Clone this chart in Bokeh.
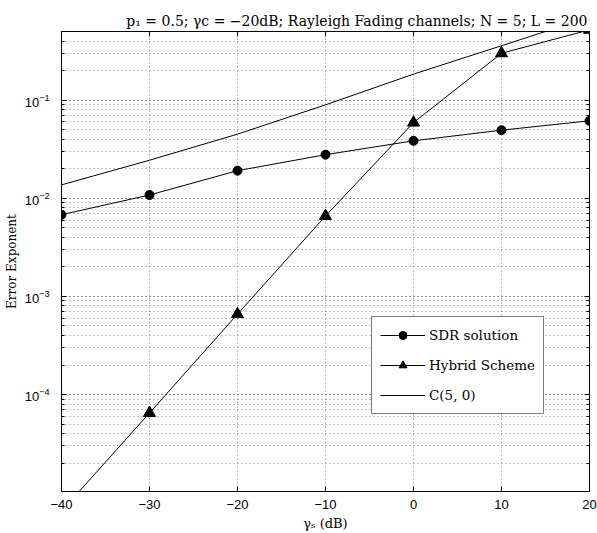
from bokeh.plotting import figure
from bokeh.models import LogAxis, LinearAxis, LogTicker, FixedTicker, CustomJSTickFormatter
from bokeh.embed import file_html
from bokeh.resources import INLINE

# ---- data ----
gamma_s = [-40, -30, -20, -10, 0, 10, 20]
sdr_solution = [6.8e-3, 1.08e-2, 1.91e-2, 2.78e-2, 3.85e-2, 4.94e-2, 6.15e-2]
hybrid_scheme = [6.5e-6, 6.5e-5, 6.6e-4, 6.6e-3, 5.9e-2, 0.30, 0.52]
c_5_0 = [1.37e-2, 2.44e-2, 4.5e-2, 8.95e-2, 0.184, 0.358, 0.70]
x_ticks = [-40, -30, -20, -10, 0, 10, 20]
x_limits = (-40, 20)
y_limits = (1.03e-5, 0.5)

title_text = "p\u2081 = 0.5; \u03b3c = \u221220dB; Rayleigh Fading channels; N = 5; L = 200"
serif = "DejaVu Serif"
sans = "Liberation Sans"
grid_col = "#808080"

p = figure(width=597, height=533, output_backend="svg", toolbar_location=None,
           x_range=x_limits, y_range=y_limits, y_axis_type="log",
           min_border_left=61, min_border_right=8, min_border_top=31, min_border_bottom=41)

p.title.text = title_text
p.title.text_font = serif
p.title.text_font_size = "14px"
p.title.text_font_style = "normal"
p.title.text_color = "black"
p.title.align = "right"
p.title.offset = 2
p.title.standoff = 5

yt = LogTicker(num_minor_ticks=10)
xt = FixedTicker(ticks=x_ticks)
p.yaxis.ticker = yt
p.xaxis.ticker = xt

def style_axis(ax, labels=True):
    ax.axis_line_color = "black"
    ax.axis_line_width = 1
    ax.major_tick_in = 5
    ax.major_tick_out = 0
    ax.minor_tick_in = 3
    ax.minor_tick_out = 0
    ax.major_tick_line_color = "black"
    ax.minor_tick_line_color = "black"
    if labels:
        ax.major_label_text_font = sans
        ax.major_label_text_font_size = "13px"
        ax.major_label_text_color = "black"
    else:
        ax.formatter = CustomJSTickFormatter(code="return ''")
        ax.major_label_text_font_size = "1px"
        ax.major_label_text_alpha = 0
        ax.major_label_standoff = 0

for ax in p.xaxis:
    style_axis(ax)
    ax.minor_tick_line_color = None
    ax.major_label_standoff = 8
    ax.axis_label = "\u03b3\u209b (dB)"
    ax.axis_label_text_font = serif
    ax.axis_label_text_font_size = "13px"
    ax.axis_label_text_font_style = "normal"
    ax.axis_label_text_color = "black"
    ax.axis_label_standoff = 4

for ax in p.yaxis:
    style_axis(ax)
    ax.major_label_standoff = 12
    ax.axis_label = "Error Exponent"
    ax.axis_label_text_font = serif
    ax.axis_label_text_font_size = "12px"
    ax.axis_label_text_font_style = "normal"
    ax.axis_label_text_color = "black"
    ax.axis_label_standoff = 3

right = LogAxis(ticker=yt)
style_axis(right, labels=False)
p.add_layout(right, "right")
top = LinearAxis(ticker=xt)
style_axis(top, labels=False)
top.minor_tick_line_color = None
p.add_layout(top, "above")

p.outline_line_color = "black"

for g in (p.xgrid, p.ygrid):
    g.grid_line_color = grid_col
    g.grid_line_dash = "1 3"
    g.grid_line_width = 1
p.ygrid.minor_grid_line_color = grid_col
p.ygrid.minor_grid_line_dash = "1 3"

p.line(gamma_s, sdr_solution, line_color="black", line_width=1, legend_label="SDR solution")
p.scatter(gamma_s, sdr_solution, marker="circle", size=9, fill_color="black", line_color="black",
          legend_label="SDR solution")
p.line(gamma_s, hybrid_scheme, line_color="black", line_width=1, legend_label="Hybrid Scheme")
p.scatter(gamma_s, hybrid_scheme, marker="triangle", size=12, fill_color="black", line_color="black",
          legend_label="Hybrid Scheme")
p.line(gamma_s, c_5_0, line_color="black", line_width=1, legend_label="C(5, 0)")

p.legend.location = (310, 77)
p.legend.border_line_color = "black"
p.legend.border_line_width = 1
p.legend.background_fill_color = "white"
p.legend.background_fill_alpha = 1
p.legend.label_text_font = serif
p.legend.label_text_font_size = "13.5px"
p.legend.label_text_font_style = "normal"
p.legend.label_text_color = "black"
p.legend.glyph_width = 45
p.legend.glyph_height = 20
p.legend.label_height = 20
p.legend.label_width = 104
p.legend.label_standoff = 4
p.legend.padding = 8
p.legend.spacing = 10
p.legend.margin = 0

open("out.html", "w").write(file_html(p, INLINE))
